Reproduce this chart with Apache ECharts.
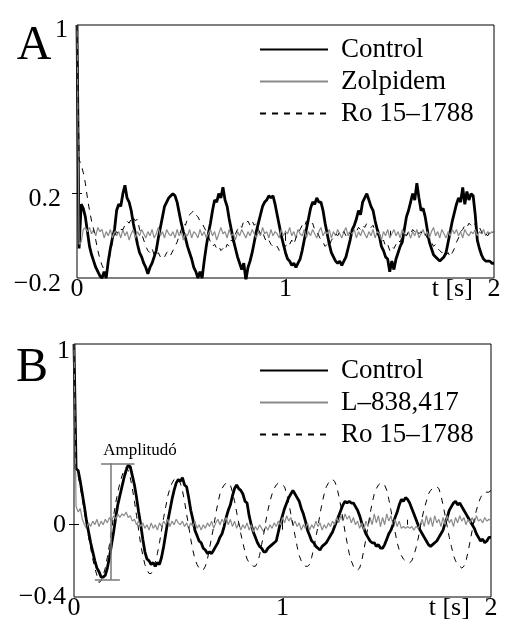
<!DOCTYPE html>
<html>
<head>
<meta charset="utf-8">
<script src="https://cdn.jsdelivr.net/npm/echarts@6/dist/echarts.min.js"></script>
<style>
html,body{margin:0;padding:0;background:#fff;}
#chart{width:508px;height:633px;}
</style>
</head>
<body>
<div id="chart"></div>
<script>
// ---- sampling step (s) ----
const dt = 0.01;

// ---- Panel A ----
const controlA = [1.00,
-0.06,0.15,0.13,0.09,0.02,-0.05,-0.09,-0.12,-0.15,-0.17,
-0.19,-0.20,-0.17,-0.20,-0.12,-0.06,-0.01,0.03,0.12,0.15,
0.14,0.20,0.24,0.18,0.16,0.12,0.06,0.01,-0.04,-0.08,
-0.10,-0.13,-0.15,-0.18,-0.15,-0.13,-0.10,-0.07,-0.01,0.04,
0.09,0.14,0.16,0.18,0.19,0.20,0.19,0.16,0.11,0.06,
0.02,-0.01,-0.05,-0.08,-0.11,-0.15,-0.17,-0.20,-0.17,-0.20,
-0.12,-0.05,0.01,0.06,0.12,0.17,0.16,0.20,0.18,0.23,
0.17,0.14,0.08,0.03,-0.02,-0.06,-0.10,-0.13,-0.16,-0.13,
-0.21,-0.15,-0.12,-0.08,-0.03,0.02,0.06,0.10,0.14,0.16,
0.17,0.19,0.18,0.19,0.15,0.10,0.05,0.00,-0.04,-0.08,
-0.11,-0.12,-0.14,-0.13,-0.15,-0.13,-0.11,-0.07,-0.02,0.03,
0.08,0.13,0.16,0.15,0.18,0.16,0.16,0.12,0.06,0.01,
-0.04,-0.08,-0.10,-0.12,-0.13,-0.12,-0.14,-0.12,-0.10,-0.06,
-0.02,0.03,0.05,0.08,0.12,0.10,0.16,0.18,0.20,0.17,
0.14,0.12,0.07,0.03,0.00,-0.05,-0.07,-0.10,-0.11,-0.17,
-0.12,-0.16,-0.11,-0.08,-0.05,-0.03,0.03,0.09,0.12,0.16,
0.20,0.17,0.25,0.18,0.12,0.13,0.09,0.03,-0.03,-0.06,
-0.09,-0.10,-0.11,-0.12,-0.11,-0.10,-0.08,-0.03,0.02,0.07,
0.11,0.15,0.18,0.16,0.23,0.15,0.21,0.17,0.20,0.19,
0.10,-0.02,-0.06,-0.09,-0.11,-0.12,-0.12,-0.12,-0.13,-0.13];

const zolpidemA = [1.00,
-0.04,-0.03,0.03,0.04,0.02,0.04,0.01,0.03,0.00,0.04,
0.02,0.03,-0.01,0.02,0.00,0.03,-0.01,0.02,0.00,0.02,
-0.01,0.03,0.00,0.02,-0.02,0.01,0.03,-0.01,0.02,0.00,
0.03,0.01,-0.01,0.02,0.00,0.03,-0.01,0.01,0.04,0.00,
0.02,-0.01,0.03,0.01,0.00,0.02,-0.01,0.03,0.00,0.02,
-0.02,0.01,0.00,0.03,-0.01,0.02,0.01,-0.01,0.03,0.00,
0.02,-0.01,0.01,0.03,0.00,0.02,-0.02,0.01,0.04,0.01,
0.02,-0.01,0.03,0.00,0.01,-0.02,0.02,0.00,0.03,0.01,
-0.01,0.02,0.00,0.03,0.01,-0.01,0.02,0.00,0.04,0.01,
0.02,-0.01,0.03,0.00,0.02,0.01,-0.01,0.03,0.00,0.02,
0.01,0.04,0.00,0.02,-0.01,0.03,0.01,0.00,0.03,-0.01,
0.02,0.00,0.03,0.01,-0.01,0.02,0.04,0.00,0.02,0.01,
0.03,-0.01,0.02,0.00,0.03,0.01,-0.01,0.02,0.04,0.00,
0.02,0.01,0.03,-0.01,0.02,0.00,0.03,0.01,-0.01,0.02,
0.00,0.03,-0.01,0.02,0.01,-0.02,0.02,0.00,0.03,-0.01,
0.01,0.03,0.00,0.02,-0.01,0.03,0.01,0.00,0.02,-0.01,
0.02,0.00,0.03,-0.01,0.01,0.03,0.00,0.02,-0.01,0.02,
0.04,0.00,0.02,-0.01,0.03,0.01,-0.01,0.02,0.00,0.03,
0.01,0.03,0.00,0.02,-0.01,0.03,0.01,0.00,0.02,0.01,
0.03,0.00,0.02,0.01,0.03,0.00,0.02,0.01,0.02,0.01];

const roA = [1.00,
0.36,0.34,0.30,0.25,0.18,0.12,0.07,0.03,-0.02,-0.07,
-0.11,-0.14,-0.16,-0.17,-0.14,-0.08,-0.03,0.00,0.02,0.01,
0.03,0.03,0.05,0.07,0.06,0.08,0.09,0.07,0.08,0.03,
0.01,-0.02,-0.05,-0.07,-0.08,-0.06,-0.09,-0.10,-0.08,-0.10,
-0.09,-0.10,-0.08,-0.07,-0.09,-0.07,-0.05,-0.03,0.00,0.03,
0.06,0.05,0.08,0.10,0.11,0.12,0.10,0.09,0.07,0.06,
0.04,0.02,0.00,-0.03,-0.05,-0.04,-0.06,-0.05,-0.07,-0.06,
-0.07,-0.04,-0.05,-0.02,-0.03,0.01,0.03,0.05,0.04,0.07,
0.06,0.07,0.05,0.07,0.05,0.06,0.03,0.01,0.02,-0.01,
-0.03,-0.02,-0.04,-0.05,-0.06,-0.05,-0.07,-0.06,-0.04,-0.05,
-0.03,-0.04,-0.02,-0.04,-0.01,0.01,0.03,0.05,0.04,0.07,
0.06,0.05,0.06,0.03,0.02,0.00,-0.02,-0.03,-0.05,-0.04,
-0.05,-0.02,-0.01,0.01,0.00,0.02,0.01,0.02,0.00,0.02,
0.01,0.02,0.03,0.02,0.04,0.03,0.05,0.04,0.06,0.05,
0.04,0.05,0.02,0.01,-0.01,-0.03,-0.02,-0.05,-0.04,-0.07,
-0.05,-0.06,-0.04,-0.02,-0.03,0.00,0.01,0.00,0.02,0.01,
0.03,0.02,0.03,0.01,0.02,0.00,0.01,-0.01,-0.02,-0.03,
-0.05,-0.04,-0.06,-0.07,-0.08,-0.07,-0.09,-0.08,-0.10,-0.08,
-0.06,-0.03,-0.01,0.02,0.03,0.05,0.04,0.06,0.05,0.04,
0.06,0.03,0.04,0.02,0.00,0.01,0.00,0.02,0.01,0.02];

// ---- Panel B ----
const controlB = [1.00,
0.31,0.30,0.24,0.17,0.10,0.02,-0.04,-0.10,-0.15,-0.20,
-0.24,-0.26,-0.29,-0.29,-0.28,-0.24,-0.18,-0.11,-0.04,0.04,
0.11,0.16,0.21,0.26,0.30,0.33,0.32,0.27,0.22,0.15,
0.07,0.00,-0.08,-0.15,-0.19,-0.20,-0.22,-0.21,-0.23,-0.21,
-0.22,-0.18,-0.12,-0.05,0.02,0.08,0.14,0.19,0.23,0.25,
0.24,0.26,0.22,0.21,0.15,0.08,0.03,-0.03,-0.06,-0.09,
-0.10,-0.13,-0.14,-0.16,-0.15,-0.16,-0.14,-0.12,-0.10,-0.07,
-0.05,-0.01,0.04,0.08,0.11,0.16,0.20,0.22,0.20,0.19,
0.17,0.13,0.12,0.05,0.00,-0.04,-0.07,-0.10,-0.12,-0.13,
-0.15,-0.15,-0.13,-0.12,-0.11,-0.10,-0.09,-0.04,0.01,0.05,
0.09,0.12,0.15,0.17,0.19,0.17,0.15,0.13,0.09,0.06,
0.02,-0.03,-0.06,-0.09,-0.10,-0.12,-0.13,-0.14,-0.12,-0.11,
-0.10,-0.08,-0.06,-0.04,-0.01,0.02,0.05,0.08,0.11,0.13,
0.12,0.13,0.12,0.12,0.10,0.08,0.05,0.01,-0.02,-0.05,
-0.07,-0.09,-0.10,-0.10,-0.12,-0.11,-0.13,-0.13,-0.11,-0.08,
-0.05,-0.03,0.00,0.04,0.07,0.11,0.14,0.13,0.15,0.14,
0.12,0.09,0.06,0.03,0.00,-0.03,-0.05,-0.07,-0.09,-0.11,
-0.12,-0.11,-0.10,-0.09,-0.07,-0.05,-0.03,0.01,0.04,0.08,
0.10,0.12,0.13,0.11,0.12,0.10,0.08,0.06,0.04,0.02,
0.00,-0.02,-0.05,-0.07,-0.09,-0.08,-0.10,-0.09,-0.07,-0.07];

const l838B = [1.00,
0.10,0.07,0.09,0.03,0.00,-0.02,0.01,-0.01,0.02,0.00,
0.03,-0.01,0.02,0.00,0.03,0.01,0.04,0.02,0.05,0.03,
0.06,0.04,0.06,0.05,0.07,0.04,0.05,0.02,0.03,0.00,
0.02,-0.01,0.01,-0.02,0.00,-0.03,0.01,-0.02,0.00,-0.03,
0.01,-0.01,0.02,0.00,0.03,-0.01,0.02,0.00,0.03,0.01,
0.00,0.02,-0.01,0.01,-0.02,0.01,-0.01,0.02,-0.02,0.00,
-0.03,0.00,-0.02,0.01,-0.01,0.02,-0.02,0.01,0.03,0.00,
0.03,0.01,0.04,0.00,0.03,-0.01,0.02,-0.02,0.01,-0.03,
0.00,-0.02,0.01,-0.03,0.00,-0.04,-0.01,-0.03,0.00,-0.02,
-0.04,-0.01,-0.03,0.00,-0.02,0.01,-0.01,0.02,0.00,0.04,
0.01,0.05,0.02,0.04,0.00,0.02,-0.01,0.01,-0.03,0.00,
-0.02,0.01,-0.03,0.00,-0.02,0.02,-0.01,0.01,-0.03,0.00,
-0.02,0.01,-0.01,0.02,0.00,0.04,0.01,0.05,0.02,0.06,
0.03,0.05,0.01,0.04,0.00,0.02,-0.02,0.01,-0.03,0.02,
-0.01,0.04,0.00,0.06,0.01,0.05,-0.01,0.04,0.00,0.06,
0.02,0.05,0.00,0.03,-0.01,0.02,-0.02,-0.01,-0.02,-0.01,
-0.02,-0.01,-0.03,-0.01,-0.02,0.00,0.03,-0.01,0.05,0.00,
0.04,-0.01,0.05,0.01,0.03,-0.01,0.04,0.00,0.05,0.01,
0.03,-0.01,0.04,0.01,0.05,0.02,0.04,0.00,0.03,0.01,
0.04,0.01,0.05,0.02,0.03,0.01,0.04,0.02,0.03,0.02];

const roB = [1.00,
0.30,0.27,0.21,0.14,0.07,0.00,-0.07,-0.13,-0.19,-0.24,
-0.28,-0.32,-0.31,-0.28,-0.24,-0.18,-0.11,-0.03,0.05,0.12,
0.18,0.23,0.27,0.30,0.32,0.30,0.26,0.20,0.13,0.05,
-0.03,-0.11,-0.17,-0.22,-0.25,-0.27,-0.27,-0.25,-0.21,-0.16,
-0.10,-0.03,0.04,0.10,0.16,0.20,0.23,0.25,0.26,0.25,
0.23,0.19,0.13,0.06,-0.01,-0.08,-0.14,-0.19,-0.22,-0.24,
-0.25,-0.25,-0.23,-0.19,-0.13,-0.07,-0.01,0.06,0.12,0.17,
0.20,0.22,0.23,0.23,0.22,0.18,0.13,0.07,0.01,-0.05,
-0.10,-0.15,-0.19,-0.21,-0.22,-0.23,-0.23,-0.21,-0.17,-0.11,
-0.05,0.02,0.08,0.13,0.17,0.20,0.22,0.23,0.23,0.22,
0.21,0.17,0.12,0.06,0.00,-0.06,-0.12,-0.17,-0.20,-0.22,
-0.23,-0.23,-0.22,-0.18,-0.13,-0.07,-0.01,0.06,0.12,0.17,
0.21,0.23,0.25,0.25,0.24,0.21,0.16,0.10,0.03,-0.04,
-0.10,-0.16,-0.20,-0.23,-0.25,-0.25,-0.24,-0.20,-0.14,-0.08,
-0.01,0.06,0.12,0.17,0.20,0.22,0.23,0.23,0.22,0.19,
0.14,0.08,0.02,-0.04,-0.10,-0.14,-0.17,-0.19,-0.20,-0.21,
-0.21,-0.20,-0.17,-0.13,-0.08,-0.02,0.04,0.09,0.13,0.17,
0.19,0.20,0.21,0.21,0.20,0.16,0.11,0.05,-0.01,-0.07,
-0.12,-0.17,-0.20,-0.22,-0.23,-0.24,-0.23,-0.20,-0.15,-0.09,
-0.03,0.03,0.08,0.12,0.15,0.17,0.18,0.18,0.18,0.19];

// ---- ticks and labels ----
const xLabelVals = [0, 1, 1.8, 2];
const xLabelTexts = ['0', '1', 't [s]', '2'];
const xTicksA = [1, 1.5];
const xTicksB = [1, 1.6];
const xTopTicks = [1];
const yLabelValsA = [-0.2, 0.2, 1];
const yLabelTextsA = ['\u22120.2', '0.2', '1'];
const yTicksA = [0.2];
const yLabelValsB = [-0.4, 0, 1];
const yLabelTextsB = ['\u22120.4', '0', '1'];
const yTicksB = [0];

// Amplitude bracket (panel B): time of vertical bar, top/bottom values, spans of the caps
const ampT = 0.177;
const ampTop = 0.34;
const ampBottom = -0.305;
const ampTopSpan = [0.13, 0.29];
const ampBottomSpan = [0.10, 0.22];

function pairs(vals) { return vals.map((v, i) => [Math.round(i * 100 * dt) / 100, v]); }

const serif = 'Liberation Serif';
const fs = 26;
const legendFs = 27;

function xBottom(gridIndex, ticks) {
  return {
    type: 'value', gridIndex: gridIndex, min: 0, max: 2, position: 'bottom',
    axisLine: {show: false}, splitLine: {show: false},
    axisTick: {show: true, inside: true, length: 5, customValues: ticks, lineStyle: {color: '#000', width: 1}},
    axisLabel: {
      show: true, customValues: xLabelVals, margin: -2, showMinLabel: true, showMaxLabel: true,
      color: '#000', fontFamily: serif, fontSize: fs,
      formatter: function (v) { const i = xLabelVals.findIndex(x => Math.abs(x - v) < 1e-6); return i >= 0 ? xLabelTexts[i] : ''; }
    }
  };
}
function xTop(gridIndex) {
  return {
    type: 'value', gridIndex: gridIndex, min: 0, max: 2, position: 'top',
    axisLine: {show: false}, splitLine: {show: false}, axisLabel: {show: false},
    axisTick: {show: true, inside: true, length: 5, customValues: xTopTicks, lineStyle: {color: '#000', width: 1}}
  };
}
function yLeft(gridIndex, min, max, ticks, vals, texts, margin, onePad, nPad) {
  return {
    type: 'value', gridIndex: gridIndex, min: min, max: max, position: 'left',
    axisLine: {show: false}, splitLine: {show: false},
    axisTick: {show: true, inside: true, length: 5, customValues: ticks, lineStyle: {color: '#000', width: 1}},
    axisLabel: {
      show: true, customValues: vals, margin: margin, showMinLabel: true, showMaxLabel: true,
      color: '#000', fontFamily: serif, fontSize: fs,
      formatter: function (v) {
        const i = vals.findIndex(x => Math.abs(x - v) < 1e-6);
        if (i < 0) return '';
        return (Math.abs(v - 1) < 1e-6 ? '{o|' : '{n|') + texts[i] + '}';
      },
      rich: {
        o: {fontFamily: serif, fontSize: fs, color: '#000', padding: onePad},
        n: {fontFamily: serif, fontSize: fs, color: '#000', padding: nPad}
      }
    }
  };
}
function yRight(gridIndex, min, max, ticks) {
  return {
    type: 'value', gridIndex: gridIndex, min: min, max: max, position: 'right',
    axisLine: {show: false}, splitLine: {show: false}, axisLabel: {show: false},
    axisTick: {show: true, inside: true, length: 5, customValues: ticks, lineStyle: {color: '#000', width: 1}}
  };
}

const lineCommon = {type: 'line', symbol: 'none', showSymbol: false, animation: false, silent: true, smooth: false};
const controlStyle = {color: '#000', width: 2.8};
const grayStyle = {color: '#8a8a8a', width: 1.2};
const dashStyle = {color: '#000', width: 1, type: [6, 6]};

const chart = echarts.init(document.getElementById('chart'), null, {renderer: 'canvas'});

const hideSym = {opacity: 0};
const legendCommon = {
  orient: 'vertical', left: 259, itemWidth: 68, itemHeight: 14, itemGap: 5, padding: 0,
  selectedMode: false,
  itemStyle: hideSym,
  textStyle: {fontFamily: serif, fontSize: legendFs, color: '#000', padding: [0, 0, 0, 8]}
};

chart.setOption({
  backgroundColor: '#fff',
  animation: false,
  grid: [
    {left: 77, top: 25, width: 417, height: 253, show: true, borderColor: '#000', borderWidth: 1, backgroundColor: 'transparent'},
    {left: 74, top: 344, width: 417, height: 253, show: true, borderColor: '#000', borderWidth: 1, backgroundColor: 'transparent'}
  ],
  xAxis: [xBottom(0, xTicksA), xTop(0), xBottom(1, xTicksB), xTop(1)],
  yAxis: [
    yLeft(0, -0.2, 1, yTicksA, yLabelValsA, yLabelTextsA, 9, [10, 0, 0, 0], [12, 7, 0, 0]),
    yRight(0, -0.2, 1, yTicksA),
    yLeft(1, -0.4, 1, yTicksB, yLabelValsB, yLabelTextsB, 4, [14, 0, 0, 0], [0, 4, 0, 0]),
    yRight(1, -0.4, 1, yTicksB)
  ],
  legend: [
    Object.assign({}, legendCommon, {top: 36, data: [
      {name: 'Control', lineStyle: {width: 2}, itemStyle: hideSym},
      {name: 'Zolpidem', itemStyle: hideSym},
      {name: 'Ro 15\u20131788', itemStyle: hideSym}
    ]}),
    Object.assign({}, legendCommon, {top: 357, data: [
      {name: 'Control', lineStyle: {width: 2}, itemStyle: hideSym},
      {name: 'L\u2013838,417', itemStyle: hideSym},
      {name: 'Ro 15\u20131788', itemStyle: hideSym}
    ]})
  ],
  series: [
    Object.assign({}, lineCommon, {name: 'Control', xAxisIndex: 0, yAxisIndex: 0, data: pairs(controlA), lineStyle: controlStyle, itemStyle: {color: '#000'}}),
    Object.assign({}, lineCommon, {name: 'Zolpidem', xAxisIndex: 0, yAxisIndex: 0, data: pairs(zolpidemA), lineStyle: grayStyle, itemStyle: {color: '#8a8a8a'}}),
    Object.assign({}, lineCommon, {name: 'Ro 15\u20131788', xAxisIndex: 0, yAxisIndex: 0, data: pairs(roA), lineStyle: dashStyle, itemStyle: {color: '#000'}}),
    Object.assign({}, lineCommon, {name: 'Control', xAxisIndex: 2, yAxisIndex: 2, data: pairs(controlB), lineStyle: controlStyle, itemStyle: {color: '#000'},
      markLine: {
        silent: true, animation: false, symbol: ['none', 'none'], label: {show: false},
        lineStyle: {color: '#777', width: 1.5, type: 'solid'},
        data: [
          [{coord: [ampTopSpan[0], ampTop]}, {coord: [ampTopSpan[1], ampTop]}],
          [{coord: [ampT, ampTop]}, {coord: [ampT, ampBottom]}],
          [{coord: [ampBottomSpan[0], ampBottom]}, {coord: [ampBottomSpan[1], ampBottom]}]
        ]
      }
    }),
    Object.assign({}, lineCommon, {name: 'L\u2013838,417', xAxisIndex: 2, yAxisIndex: 2, data: pairs(l838B), lineStyle: grayStyle, itemStyle: {color: '#8a8a8a'}}),
    Object.assign({}, lineCommon, {name: 'Ro 15\u20131788', xAxisIndex: 2, yAxisIndex: 2, data: pairs(roB), lineStyle: dashStyle, itemStyle: {color: '#000'}})
  ],
  graphic: [
    {type: 'text', x: 34, y: 46, style: {text: 'A', font: '48px "Liberation Serif"', fill: '#000', align: 'center', verticalAlign: 'middle'}},
    {type: 'text', x: 32, y: 368, style: {text: 'B', font: '48px "Liberation Serif"', fill: '#000', align: 'center', verticalAlign: 'middle'}},
    {type: 'text', x: 140, y: 451, style: {text: 'Amplitud\u00f3', font: '17px "Liberation Serif"', fill: '#000', align: 'center', verticalAlign: 'middle'}}
  ]
});
</script>
</body>
</html>
